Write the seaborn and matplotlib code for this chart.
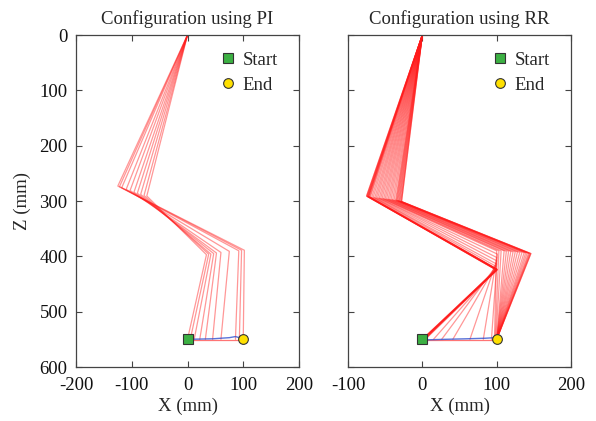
import numpy as np
import pandas as pd
import matplotlib
matplotlib.use("Agg")
import matplotlib.pyplot as plt
import seaborn as sns

# ---------------- data (mm) ----------------
# PI configurations: base (0,0) -> elbow -> wrist -> end effector
pi_elbow_x = [-73, -78, -84, -90, -96, -103, -110, -118, -122, -125]
pi_elbow_z = [291, 290, 288, 286, 284, 281, 279, 276, 274, 273]
pi_wrist_x = [34, 38, 42, 47, 52, 60, 75, 92, 97, 102]
pi_wrist_z = [397, 396, 396, 395, 394, 393, 391, 390, 389, 389]
pi_ee_x = [0, 5, 12, 22, 32, 45, 60, 86, 93, 100]
pi_ee_z = [550, 550, 550, 550, 550, 550, 550, 550, 550, 550]
pi_path_x = [0, 46, 60, 75, 86, 93, 100]
pi_path_z = [550, 549, 548, 547, 545, 547, 550]

# RR configurations
rr_elbow_x = [-75, -75, -74, -74, -73, -73, -72, -72, -71, -70,
              -68, -66, -64, -62, -60, -58,
              -56, -54, -52, -50, -48, -46, -44, -42, -40, -38,
              -36, -35, -34, -33, -32, -31, -30, -29, -28, -28]
rr_elbow_z = [291, 291, 291, 292, 292, 292, 292, 292, 293, 293,
              293, 293, 294, 294, 294, 295,
              295, 295, 296, 296, 296, 297, 297, 297, 298, 298,
              298, 299, 299, 299, 300, 300, 300, 301, 301, 301]
rr_wrist_x = [100, 100, 99, 100, 101, 100, 99, 100, 100, 101,
              99, 99, 100, 100, 100, 101,
              100, 103, 106, 110, 113, 116, 119, 122, 125, 128,
              131, 134, 137, 139, 141, 143, 144, 145, 146, 146]
rr_wrist_z = [424, 425, 424, 423, 424, 425, 424, 423, 424, 424,
              422, 418, 414, 408, 402, 396,
              390, 390, 390, 390, 391, 391, 391, 392, 392, 392,
              393, 393, 393, 394, 394, 394, 395, 395, 395, 395]
rr_ee_x = [0, 0, 0, 1, 1, 2, 2, 3, 3, 4,
           15, 26, 41, 64, 82, 93,
           97, 98, 99, 100, 100, 100, 100, 100, 100, 100,
           100, 100, 100, 100, 100, 100, 100, 100, 100, 100]
rr_ee_z = [550] * 36
rr_path_x = [3, 30, 60, 85, 97]
rr_path_z = [551, 550, 549, 548, 547]

start_pt = (0, 550)
end_pt = (100, 550)
titles = ["Configuration using PI", "Configuration using RR"]


def to_long(ex, ez, wx, wz, px, pz):
    rows = []
    for i in range(len(ex)):
        pts = [(0, 0), (ex[i], ez[i]), (wx[i], wz[i]), (px[i], pz[i])]
        for k, (x, z) in enumerate(pts):
            rows.append({"cfg": i, "order": k, "x": x, "z": z})
    return pd.DataFrame(rows)


df_pi = to_long(pi_elbow_x, pi_elbow_z, pi_wrist_x, pi_wrist_z, pi_ee_x, pi_ee_z)
df_rr = to_long(rr_elbow_x, rr_elbow_z, rr_wrist_x, rr_wrist_z, rr_ee_x, rr_ee_z)

sns.set_theme(style="ticks")
plt.rcParams["font.family"] = ["Liberation Serif", "DejaVu Serif"]
plt.rcParams["axes.unicode_minus"] = False
plt.rcParams["axes.edgecolor"] = "#444444"
plt.rcParams["xtick.color"] = "#444444"
plt.rcParams["ytick.color"] = "#444444"
plt.rcParams["xtick.labelcolor"] = "#111111"
plt.rcParams["ytick.labelcolor"] = "#111111"

fig = plt.figure(figsize=(5.96, 4.21), dpi=100)
ax1 = fig.add_axes([76 / 596, 1 - 367 / 421, 223 / 596, 332 / 421])
ax2 = fig.add_axes([348 / 596, 1 - 367 / 421, 223 / 596, 332 / 421])

fs = 13.5
for ax, df, xlim, xticks, path, title in [
    (ax1, df_pi, (-200, 200), [-200, -100, 0, 100, 200], (pi_path_x, pi_path_z), titles[0]),
    (ax2, df_rr, (-100, 200), [-100, 0, 100, 200], (rr_path_x, rr_path_z), titles[1]),
]:
    sns.lineplot(data=df, x="x", y="z", units="cfg", estimator=None, sort=False,
                 color="#ff1a1a", alpha=0.45, lw=0.9, ax=ax, legend=False)
    sns.lineplot(x=[start_pt[0], end_pt[0]], y=[551, 551], color="#ff1a1a",
                 alpha=0.6, lw=0.9, ax=ax, legend=False)
    sns.lineplot(x=path[0], y=path[1], sort=False, estimator=None,
                 color="#3050d0", alpha=0.8, lw=1.0, ax=ax, legend=False)
    ax.plot(*start_pt, ls="none", marker="s", ms=6.5, mfc="#3cb043", mec="#333333",
            mew=0.8, label="Start")
    ax.plot(*end_pt, ls="none", marker="o", ms=7, mfc="#ffe000", mec="#333333",
            mew=0.8, label="End")
    ax.set_xlim(*xlim)
    ax.set_ylim(600, 0)
    ax.set_xticks(xticks)
    ax.set_yticks(range(0, 601, 100))
    ax.tick_params(axis="x", pad=7)
    ax.tick_params(axis="y", pad=6)
    ax.tick_params(direction="in", length=4, width=0.8, top=True, right=True,
                   labelsize=fs)
    for s in ax.spines.values():
        s.set_linewidth(0.9)
    ax.set_title(title, fontsize=fs, pad=8)
    ax.set_xlabel("X (mm)", fontsize=fs, labelpad=3)
    ax.legend(loc="upper right", frameon=False, fontsize=fs, handletextpad=0.2,
              borderaxespad=0.3, labelspacing=0.42, handlelength=1.2,
              bbox_to_anchor=(0.965, 0.99))

ax1.set_ylabel("Z (mm)", fontsize=fs, labelpad=6)
ax2.set_ylabel("")
ax2.set_yticklabels([])

fig.savefig("out.png", dpi=100)
